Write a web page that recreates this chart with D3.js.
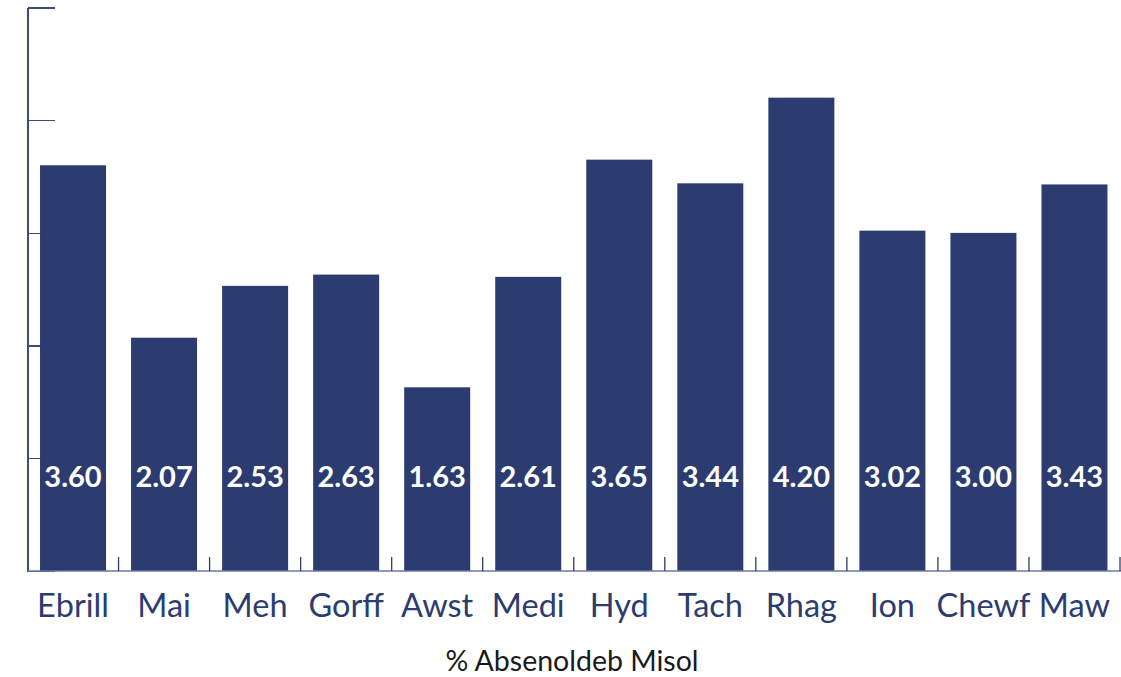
<!DOCTYPE html>
<html lang="cy">
<head>
    <meta charset="UTF-8">
    <title>% Absenoldeb Misol</title>
    <script src="https://d3js.org/d3.v7.min.js"></script>
    <style>
        body { margin: 0; background: #fff; }
        .axis path, .axis line { stroke: #3d4b7c; stroke-width: 1.3px; shape-rendering: crispEdges; }
        .bar { fill: #2c3c70; }
        .val { font: bold 29px Lato, sans-serif; fill: #fff; }
        .cat { font: 32.5px Lato, sans-serif; fill: #2c3c70; }
        .title { font: 28.5px Lato, sans-serif; fill: #1a1a1a; }
    </style>
</head>
<body>
    <script>
        // Months and monthly absence (%)
        var months = ["Ebrill", "Mai", "Meh", "Gorff", "Awst", "Medi", "Hyd", "Tach", "Rhag", "Ion", "Chewf", "Maw"];
        var absence = [3.60, 2.07, 2.53, 2.63, 1.63, 2.61, 3.65, 3.44, 4.20, 3.02, 3.00, 3.43];
        var yTicks = [0, 1, 2, 3, 4, 5];

        var width = 1121, height = 677;
        var plotLeft = 27.5, plotRight = 1120, plotTop = 7.5, plotBase = 571;

        var svg = d3.select("body").append("svg")
            .attr("width", width)
            .attr("height", height);

        var x = d3.scaleBand()
            .domain(months)
            .range([plotLeft, plotRight])
            .paddingInner(0.275)
            .paddingOuter(0.1375);

        var y = d3.scaleLinear()
            .domain([0, 5])
            .range([plotBase, plotTop]);

        // Left axis, ticks pointing into the plot
        svg.append("g")
            .attr("class", "axis")
            .attr("transform", "translate(" + plotLeft + ",0)")
            .call(d3.axisRight(y).tickValues(yTicks).tickSize(27).tickSizeOuter(0).tickFormat(""));

        // Bars
        svg.selectAll(".bar")
            .data(absence)
            .enter().append("rect")
            .attr("class", "bar")
            .attr("x", function(d, i) { return x(months[i]); })
            .attr("width", x.bandwidth())
            .attr("y", function(d) { return y(d); })
            .attr("height", function(d) { return plotBase - y(d); });

        // Bottom axis line and ticks between bars
        var step = x.step();
        svg.append("line")
            .attr("x1", plotLeft).attr("x2", width)
            .attr("y1", plotBase).attr("y2", plotBase)
            .style("stroke", "#6c78a0").style("stroke-width", 1.5);

        svg.selectAll(".sep")
            .data(months)
            .enter().append("line")
            .attr("class", "sep")
            .attr("x1", function(d) { return x(d) + x.bandwidth() + step * x.paddingOuter(); })
            .attr("x2", function(d) { return x(d) + x.bandwidth() + step * x.paddingOuter(); })
            .attr("y1", plotBase - 14).attr("y2", plotBase)
            .style("stroke", "#2c3c70").style("stroke-width", 1.3);

        // Value labels (all on one line near the base)
        svg.selectAll(".val")
            .data(absence)
            .enter().append("text")
            .attr("class", "val")
            .attr("x", function(d, i) { return x(months[i]) + x.bandwidth() / 2; })
            .attr("y", 487)
            .attr("text-anchor", "middle")
            .text(function(d) { return d.toFixed(2); });

        // Month labels
        svg.selectAll(".cat")
            .data(months)
            .enter().append("text")
            .attr("class", "cat")
            .attr("x", function(d) { return x(d) + x.bandwidth() / 2; })
            .attr("y", 617)
            .attr("text-anchor", "middle")
            .text(function(d) { return d; });

        svg.append("text")
            .attr("class", "title")
            .attr("x", 572)
            .attr("y", 671)
            .attr("text-anchor", "middle")
            .text("% Absenoldeb Misol");
    </script>
</body>
</html>
